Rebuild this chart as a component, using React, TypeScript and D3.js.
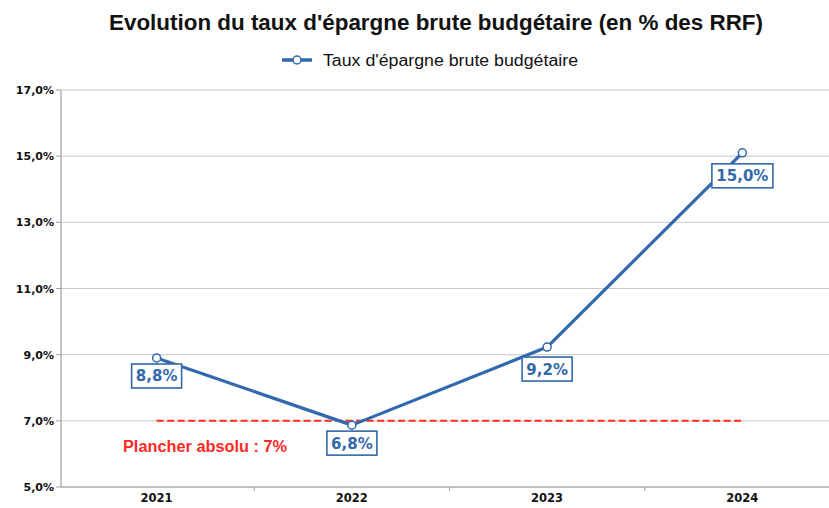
import React from "react";
import * as d3 from "d3";

const years = ["2021", "2022", "2023", "2024"];
const rates = [8.9, 6.87, 9.23, 15.1];
const rateLabels = ["8,8%", "6,8%", "9,2%", "15,0%"];
const labelOffsets = [18, 18, 22, 23];
const yTicks = [5, 7, 9, 11, 13, 15, 17];
const floorValue = 7;
const floorLabel = "Plancher absolu : 7%";
const title = "Evolution du taux d'épargne brute budgétaire (en % des RRF)";
const seriesName = "Taux d'épargne brute budgétaire";

const W = 829;
const H = 508;
const BLUE = "#3169ac";
const RED = "#ff2a1f";
const NARROW = "'Liberation Sans Narrow', 'Arial Narrow', 'Liberation Sans', Arial, sans-serif";

export default function App() {
  const x = d3.scaleBand<string>().domain(years).range([59, 840]);
  const y = d3.scaleLinear().domain([5, 17]).range([487, 90]);
  const cx = (yr: string) => (x(yr) as number) + x.bandwidth() / 2;
  const line = d3
    .line<number>()
    .x((_, i) => cx(years[i]))
    .y((d) => y(d));
  const fmt = (v: number) => d3.format(".1f")(v).replace(".", ",") + "%";

  return (
    <svg
      width={W}
      height={H}
      style={{ position: "absolute", left: 0, top: 0, background: "#fff" }}
    >
      <rect x={0} y={0} width={W} height={H} fill="#fff" />
      <text
        x={436}
        y={30}
        textAnchor="middle"
        fontFamily={NARROW}
        fontWeight="bold"
        fontSize={22}
        textLength={654}
        lengthAdjust="spacingAndGlyphs"
        fill="#111"
      >
        {title}
      </text>
      {/* legend */}
      <line x1={282} x2={312} y1={60} y2={60} stroke={BLUE} strokeWidth={3.5} />
      <circle cx={297} cy={60} r={4} fill="#fff" stroke={BLUE} strokeWidth={1.5} />
      <text
        x={323}
        y={65.5}
        fontFamily={NARROW}
        fontSize={16}
        textLength={255}
        lengthAdjust="spacingAndGlyphs"
        fill="#111"
      >
        {seriesName}
      </text>
      {/* gridlines */}
      {yTicks.map((t) => (
        <line
          key={"g" + t}
          x1={61}
          x2={W}
          y1={y(t)}
          y2={y(t)}
          stroke="#c9c9c9"
          strokeWidth={1}
        />
      ))}
      {/* y axis */}
      <line x1={61} x2={61} y1={y(17)} y2={y(5)} stroke="#a0a0a0" strokeWidth={1.2} />
      {yTicks.map((t) => (
        <g key={"yt" + t}>
          <line x1={56} x2={61} y1={y(t)} y2={y(t)} stroke="#a0a0a0" />
          <text
            x={54}
            y={y(t) + 4}
            textAnchor="end"
            fontFamily="DejaVu Sans, Verdana, sans-serif"
            fontWeight="bold"
            fontSize={11}
            fill="#111"
          >
            {fmt(t)}
          </text>
        </g>
      ))}
      {/* x axis */}
      <line x1={61} x2={W} y1={y(5)} y2={y(5)} stroke="#a0a0a0" strokeWidth={1.2} />
      {years.slice(1).map((yr) => (
        <line
          key={"xt" + yr}
          x1={x(yr) as number}
          x2={x(yr) as number}
          y1={y(5)}
          y2={y(5) + 4}
          stroke="#a0a0a0"
        />
      ))}
      {years.map((yr) => (
        <text
          key={"xl" + yr}
          x={cx(yr)}
          y={502}
          textAnchor="middle"
          fontFamily="DejaVu Sans, Verdana, sans-serif"
          fontWeight="bold"
          fontSize={11.5}
          fill="#111"
        >
          {yr}
        </text>
      ))}
      {/* floor line */}
      <line
        x1={cx(years[0])}
        x2={cx(years[years.length - 1])}
        y1={y(floorValue)}
        y2={y(floorValue)}
        stroke={RED}
        strokeWidth={2}
        strokeDasharray="7 3.5"
      />
      <text
        x={123}
        y={451.5}
        fontFamily="Liberation Sans, Arial, sans-serif"
        fontWeight="bold"
        fontSize={16}
        textLength={164}
        lengthAdjust="spacingAndGlyphs"
        fill={RED}
      >
        {floorLabel}
      </text>
      {/* series */}
      <path d={line(rates) as string} fill="none" stroke={BLUE} strokeWidth={3.2} strokeLinejoin="round" />
      {rates.map((v, i) => (
        <circle
          key={"m" + i}
          cx={cx(years[i])}
          cy={y(v)}
          r={4}
          fill="#fff"
          stroke={BLUE}
          strokeWidth={1.5}
        />
      ))}
      {rates.map((v, i) => {
        const lbl = rateLabels[i];
        const w = lbl.length > 4 ? 61 : 50;
        const h = 24;
        const px = cx(years[i]) + 0;
        const py = y(v) + labelOffsets[i];
        return (
          <g key={"l" + i}>
            <rect
              x={px - w / 2}
              y={py - h / 2}
              width={w}
              height={h}
              fill="#fff"
              stroke={BLUE}
              strokeWidth={1.6}
            />
            <text
              x={px}
              y={py + 5.5}
              textAnchor="middle"
              fontFamily="DejaVu Sans, Verdana, sans-serif"
              fontWeight="bold"
              fontSize={15}
              fill={BLUE}
            >
              {lbl}
            </text>
          </g>
        );
      })}
    </svg>
  );
}
